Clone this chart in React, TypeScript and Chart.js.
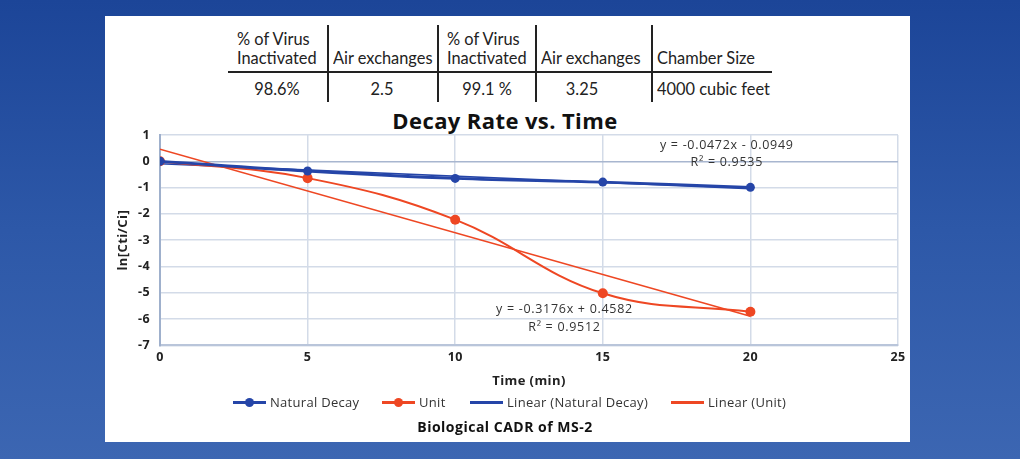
import React, { useEffect, useRef } from "react";
import { Chart, registerables } from "chart.js";

Chart.register(...registerables);

// ---- data ----
const timeMin = [0, 5, 10, 15, 20];
const naturalDecay = [0, -0.37, -0.65, -0.79, -0.99];
const unitValues = [0, -0.64, -2.22, -5.02, -5.72];
const trendRange = [0, 20];
const naturalTrend = { slope: -0.0472, intercept: -0.0949 };
const unitTrend = { slope: -0.3176, intercept: 0.4582 };
const xTickValues = [0, 5, 10, 15, 20, 25];
const yTickValues = [1, 0, -1, -2, -3, -4, -5, -6, -7];

const tableHeaders = [
  ["% of Virus", "Inactivated"],
  ["Air exchanges"],
  ["% of Virus", "Inactivated"],
  ["Air exchanges"],
  ["Chamber Size"],
];
const tableValues = ["98.6%", "2.5", "99.1 %", "3.25", "4000 cubic feet"];

const eqLabels = [
  { text: "y = -0.0472x - 0.0949", x: 19.2, y: 0.62 },
  { text: "R\u00B2 = 0.9535", x: 19.2, y: -0.05 },
  { text: "y = -0.3176x + 0.4582", x: 13.7, y: -5.64 },
  { text: "R\u00B2 = 0.9512", x: 13.7, y: -6.31 },
];

const legendItems = [
  { label: "Natural Decay", color: "#2545a8", marker: true },
  { label: "Unit", color: "#ee4723", marker: true },
  { label: "Linear (Natural Decay)", color: "#2545a8", marker: false },
  { label: "Linear (Unit)", color: "#ee4723", marker: false },
];

const BLUE = "#2545a8";
const ORANGE = "#ee4723";
const FONT = '"Open Sans", sans-serif';
const TABLE_FONT = "Lato, sans-serif";

const spacingPlugin = {
  id: "spacing",
  beforeUpdate(chart: any) {
    chart.ctx.letterSpacing = "0.4px";
  },
  beforeDraw(chart: any) {
    chart.ctx.letterSpacing = "0.4px";
  },
};

const eqPlugin = {
  id: "eqLabels",
  afterDatasetsDraw(chart: any) {
    const { ctx, scales } = chart;
    const xs = scales.x;
    const ys = scales.y;
    ctx.save();
    ctx.font = `12.5px ${FONT}`;
    (ctx as any).letterSpacing = "0.7px";
    ctx.fillStyle = "#333";
    ctx.textAlign = "center";
    ctx.textBaseline = "middle";
    for (const a of eqLabels) {
      ctx.fillText(a.text, xs.getPixelForValue(a.x), ys.getPixelForValue(a.y));
    }
    ctx.restore();
  },
};

function trendPoints(t: { slope: number; intercept: number }) {
  return trendRange.map((x) => ({ x, y: t.slope * x + t.intercept }));
}

export default function App() {
  const ref = useRef<HTMLCanvasElement>(null);

  useEffect(() => {
    if (!ref.current) return;
    const chart = new Chart(ref.current, {
      type: "line",
      data: {
        datasets: [
          {
            label: "Natural Decay",
            data: timeMin.map((x, i) => ({ x, y: naturalDecay[i] })),
            borderColor: BLUE,
            backgroundColor: BLUE,
            borderWidth: 2.8,
            pointRadius: 4.5,
            pointBorderWidth: 0,
            tension: 0.4,
          },
          {
            label: "Unit",
            data: timeMin.map((x, i) => ({ x, y: unitValues[i] })),
            borderColor: ORANGE,
            backgroundColor: ORANGE,
            borderWidth: 2,
            pointRadius: 5,
            pointBorderWidth: 0,
            tension: 0.4,
          },
          {
            label: "Linear (Natural Decay)",
            data: trendPoints(naturalTrend),
            borderColor: BLUE,
            borderWidth: 1.6,
            pointRadius: 0,
            tension: 0,
          },
          {
            label: "Linear (Unit)",
            data: trendPoints(unitTrend),
            borderColor: ORANGE,
            borderWidth: 1.6,
            pointRadius: 0,
            tension: 0,
          },
        ],
      },
      options: {
        responsive: false,
        animation: false,
        layout: { padding: { left: 100, top: 135, right: 122, bottom: 66 } },
        plugins: {
          legend: { display: false },
          title: { display: false },
          tooltip: { enabled: false },
        },
        scales: {
          x: {
            type: "linear",
            min: 0,
            max: 25,
            afterBuildTicks: (s: any) => {
              s.ticks = xTickValues.map((v) => ({ value: v }));
            },
            ticks: {
              padding: 5,
              color: "#222",
              font: { family: FONT, size: 12.5, weight: "bold" },
            },
            grid: { color: "#d3dbe8", lineWidth: 1.5, drawTicks: false },
            border: { color: "#b9c5da", width: 2 },
            title: {
              display: true,
              text: "Time (min)",
              color: "#222",
              font: { family: FONT, size: 13, weight: "bold" },
              padding: { top: 3, bottom: 4 },
            },
          },
          y: {
            min: -7,
            max: 1,
            afterBuildTicks: (s: any) => {
              s.ticks = yTickValues.map((v) => ({ value: v }));
            },
            afterFit: (s: any) => {
              s.width = 60;
            },
            ticks: {
              padding: 10,
              color: "#222",
              font: { family: FONT, size: 12.5, weight: "bold" },
            },
            grid: {
              color: (c: any) => (c.tick && c.tick.value === 0 ? "#a8b6cf" : "#d3dbe8"),
              lineWidth: 1.5,
              drawTicks: false,
            },
            border: { color: "#9fb0cc", width: 2 },
            title: {
              display: true,
              text: "ln[Cti/Ci]",
              color: "#222",
              font: { family: FONT, size: 13, weight: "bold" },
              padding: { top: 15, bottom: 0 },
            },
          },
        },
      },
      plugins: [spacingPlugin, eqPlugin],
    } as any);
    return () => chart.destroy();
  }, []);

  const colBounds = [228, 328, 438, 536, 652, 772];
  const valueCenters = [277, 382, 487, 582, null];

  return (
    <div
      style={{
        position: "fixed",
        left: 0,
        top: 0,
        width: 1020,
        height: 459,
        overflow: "hidden",
        background: "linear-gradient(180deg, #1c4598 0%, #2d58a8 50%, #3c66b2 100%)",
      }}
    >
      <div
        style={{
          position: "absolute",
          left: 105,
          top: 16,
          width: 805,
          height: 426,
          background: "#fff",
        }}
      />
      {/* table */}
      <div
        style={{
          position: "absolute",
          left: colBounds[0],
          top: 71,
          width: colBounds[5] - colBounds[0],
          height: 1.5,
          background: "#222",
        }}
      />
      {colBounds.slice(1, 5).map((x, i) => (
        <div
          key={"v" + i}
          style={{ position: "absolute", left: x - 0.7, top: 25, width: 1.4, height: 77, background: "#222" }}
        />
      ))}
      {tableHeaders.map((lines, i) => (
        <div
          key={"h" + i}
          style={{
            position: "absolute",
            left: colBounds[i] + (i === 0 || i === 2 ? 9 : 5),
            bottom: 459 - 67,
            fontFamily: TABLE_FONT,
            fontSize: 18,
            lineHeight: "19px",
            color: "#222",
            whiteSpace: "nowrap",
            transform: "scaleX(0.91)",
            transformOrigin: "left center",
          }}
        >
          {lines.map((l, j) => (
            <div key={j}>{l}</div>
          ))}
        </div>
      ))}
      {tableValues.map((v, i) => (
        <div
          key={"d" + i}
          style={{
            position: "absolute",
            left: valueCenters[i] === null ? colBounds[i] + 5 : (valueCenters[i] as number) - 60,
            width: valueCenters[i] === null ? undefined : 120,
            textAlign: valueCenters[i] === null ? "left" : "center",
            top: 78,
            fontFamily: TABLE_FONT,
            fontSize: 18,
            lineHeight: "20px",
            color: "#222",
            whiteSpace: "nowrap",
            transform: "scaleX(0.91)",
            transformOrigin: valueCenters[i] === null ? "left center" : "center center",
          }}
        >
          {v}
        </div>
      ))}
      {/* title */}
      <div
        style={{
          position: "absolute",
          left: 305,
          width: 400,
          top: 106,
          textAlign: "center",
          fontFamily: FONT,
          fontWeight: 700,
          fontSize: 22,
          letterSpacing: "0.4px",
          lineHeight: "28px",
          color: "#111",
        }}
      >
        Decay Rate vs. Time
      </div>
      <canvas ref={ref} width={1020} height={459} style={{ position: "absolute", left: 0, top: 0 }} />
      {/* legend */}
      {legendItems.map((it, i) => {
        const lefts = [233, 382, 470, 671];
        return (
          <div
            key={"l" + i}
            style={{
              position: "absolute",
              left: lefts[i],
              top: 394,
              height: 16,
              display: "flex",
              alignItems: "center",
              fontFamily: FONT,
              fontSize: 13,
              letterSpacing: "0.3px",
              color: "#333",
              whiteSpace: "nowrap",
            }}
          >
            <div style={{ position: "relative", width: 33, height: 16, marginRight: 4 }}>
              <div
                style={{ position: "absolute", left: 0, top: 7, width: 33, height: 2.5, background: it.color }}
              />
              {it.marker && (
                <div
                  style={{
                    position: "absolute",
                    left: 12,
                    top: 3.5,
                    width: 9,
                    height: 9,
                    borderRadius: "50%",
                    background: it.color,
                  }}
                />
              )}
            </div>
            {it.label}
          </div>
        );
      })}
      <div
        style={{
          position: "absolute",
          left: 305,
          width: 400,
          top: 418,
          textAlign: "center",
          fontFamily: FONT,
          fontWeight: 700,
          fontSize: 14,
          letterSpacing: "0.5px",
          lineHeight: "18px",
          color: "#111",
        }}
      >
        Biological CADR of MS-2
      </div>
    </div>
  );
}
